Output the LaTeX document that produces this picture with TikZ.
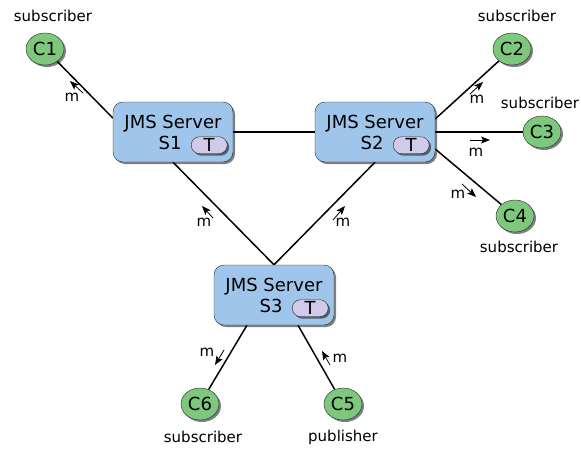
\documentclass[tikz,border=0pt]{standalone}
\usepackage{fontspec}
\setmainfont{DejaVu Sans}
\usepackage{tikz}
\usetikzlibrary{arrows.meta,backgrounds,calc,shadows,positioning,shapes.geometric}
\definecolor{serverblue}{RGB}{159,198,234}
\definecolor{clientgreen}{RGB}{126,200,126}
\definecolor{topiclilac}{RGB}{208,203,232}
\tikzset{
  shade/.style={drop shadow={shadow xshift=2pt,shadow yshift=-2pt,opacity=0.5,fill=black}},
  server/.style={draw=black!85,fill=serverblue,rounded corners=10pt,minimum width=120pt,minimum height=60pt,inner sep=0pt,align=right,font=\fontsize{18}{21}\selectfont,shade},
  client/.style={ellipse,draw=black!85,fill=clientgreen,minimum width=38pt,minimum height=32pt,inner sep=0pt,font=\fontsize{18}{21}\selectfont,shade},
  topic/.style={draw=black!85,fill=topiclilac,rounded corners=8.5pt,minimum width=36pt,minimum height=17pt,inner sep=0pt,text height=13pt,text depth=0pt,font=\fontsize{18}{21}\selectfont,shade},
  link/.style={line width=1.5pt},
  msg/.style={-{Stealth[length=9pt,width=7pt,inset=2pt]},line width=0.8pt},
  lbl/.style={font=\fontsize{15}{18}\selectfont,inner sep=0pt}
}
\begin{document}
\begin{tikzpicture}[x=1pt,y=-1pt]
\useasboundingbox (0,0) rectangle (581,448);
\node[server] (s1) at (173,132) {JMS Server\\S1\hspace*{40pt}};
\node[server] (s2) at (375,132) {JMS Server\\S2\hspace*{40pt}};
\node[server] (s3) at (274,295) {JMS Server\\S3\hspace*{40pt}};
\node[topic] (t1) at ($(s1.south east)+(-24,-17)$) {T};
\node[topic] (t2) at ($(s2.south east)+(-24,-17)$) {T};
\node[topic] (t3) at ($(s3.south east)+(-24,-17)$) {T};
\node[client] (c1) at (45,49) {C1};
\node[client] (c2) at (512,49) {C2};
\node[client] (c3) at (542,132) {C3};
\node[client] (c4) at (515,216) {C4};
\node[client] (c5) at (343,404) {C5};
\node[client] (c6) at (200,404) {C6};
\node[lbl] (l1) at (53,16) {subscriber};
\node[lbl] (l2) at (517,16) {subscriber};
\node[lbl] (l3) at (540,103) {subscriber};
\node[lbl] (l4) at (519,247) {subscriber};
\node[lbl] (l5) at (343,437) {publisher};
\node[lbl] (l6) at (203,437) {subscriber};
\begin{scope}[on background layer]
\draw[link] (c1) -- ($(s1.west)+(0,-14)$);
\draw[link] (s1.east) -- (s2.west);
\draw[link] (s1.south) -- (s3.north);
\draw[link] (s2.south) -- (s3.north);
\draw[link] ($(s2.east)+(0,-13)$) -- (c2);
\draw[link] (s2.east) -- (c3);
\draw[link] ($(s2.east)+(0,17)$) -- (c4);
\draw[link] ($(s3.south)+(-27,0)$) -- (c6);
\draw[link] ($(s3.south)+(24,0)$) -- (c5);
\end{scope}
\node[lbl] (m1) at (72,97) {m};
\node[lbl] (m2) at (204,222) {m};
\node[lbl] (m3) at (343,222) {m};
\node[lbl] (m4) at (477,99) {m};
\node[lbl] (m5) at (476,152) {m};
\node[lbl] (m6) at (458,194) {m};
\node[lbl] (m7) at (207,352) {m};
\node[lbl] (m8) at (340,358) {m};
\draw[msg] (83,93) -- (70,81);
\draw[msg] (213,218) -- (202,206);
\draw[msg] (333,220) -- (345,206);
\draw[msg] (470,94) -- (483,82);
\draw[msg] (470,140) -- (490,140);
\draw[msg] (462,184) -- (476,197);
\draw[msg] (224,350) -- (215,365);
\draw[msg] (330,365) -- (322,351);
\end{tikzpicture}
\end{document}
